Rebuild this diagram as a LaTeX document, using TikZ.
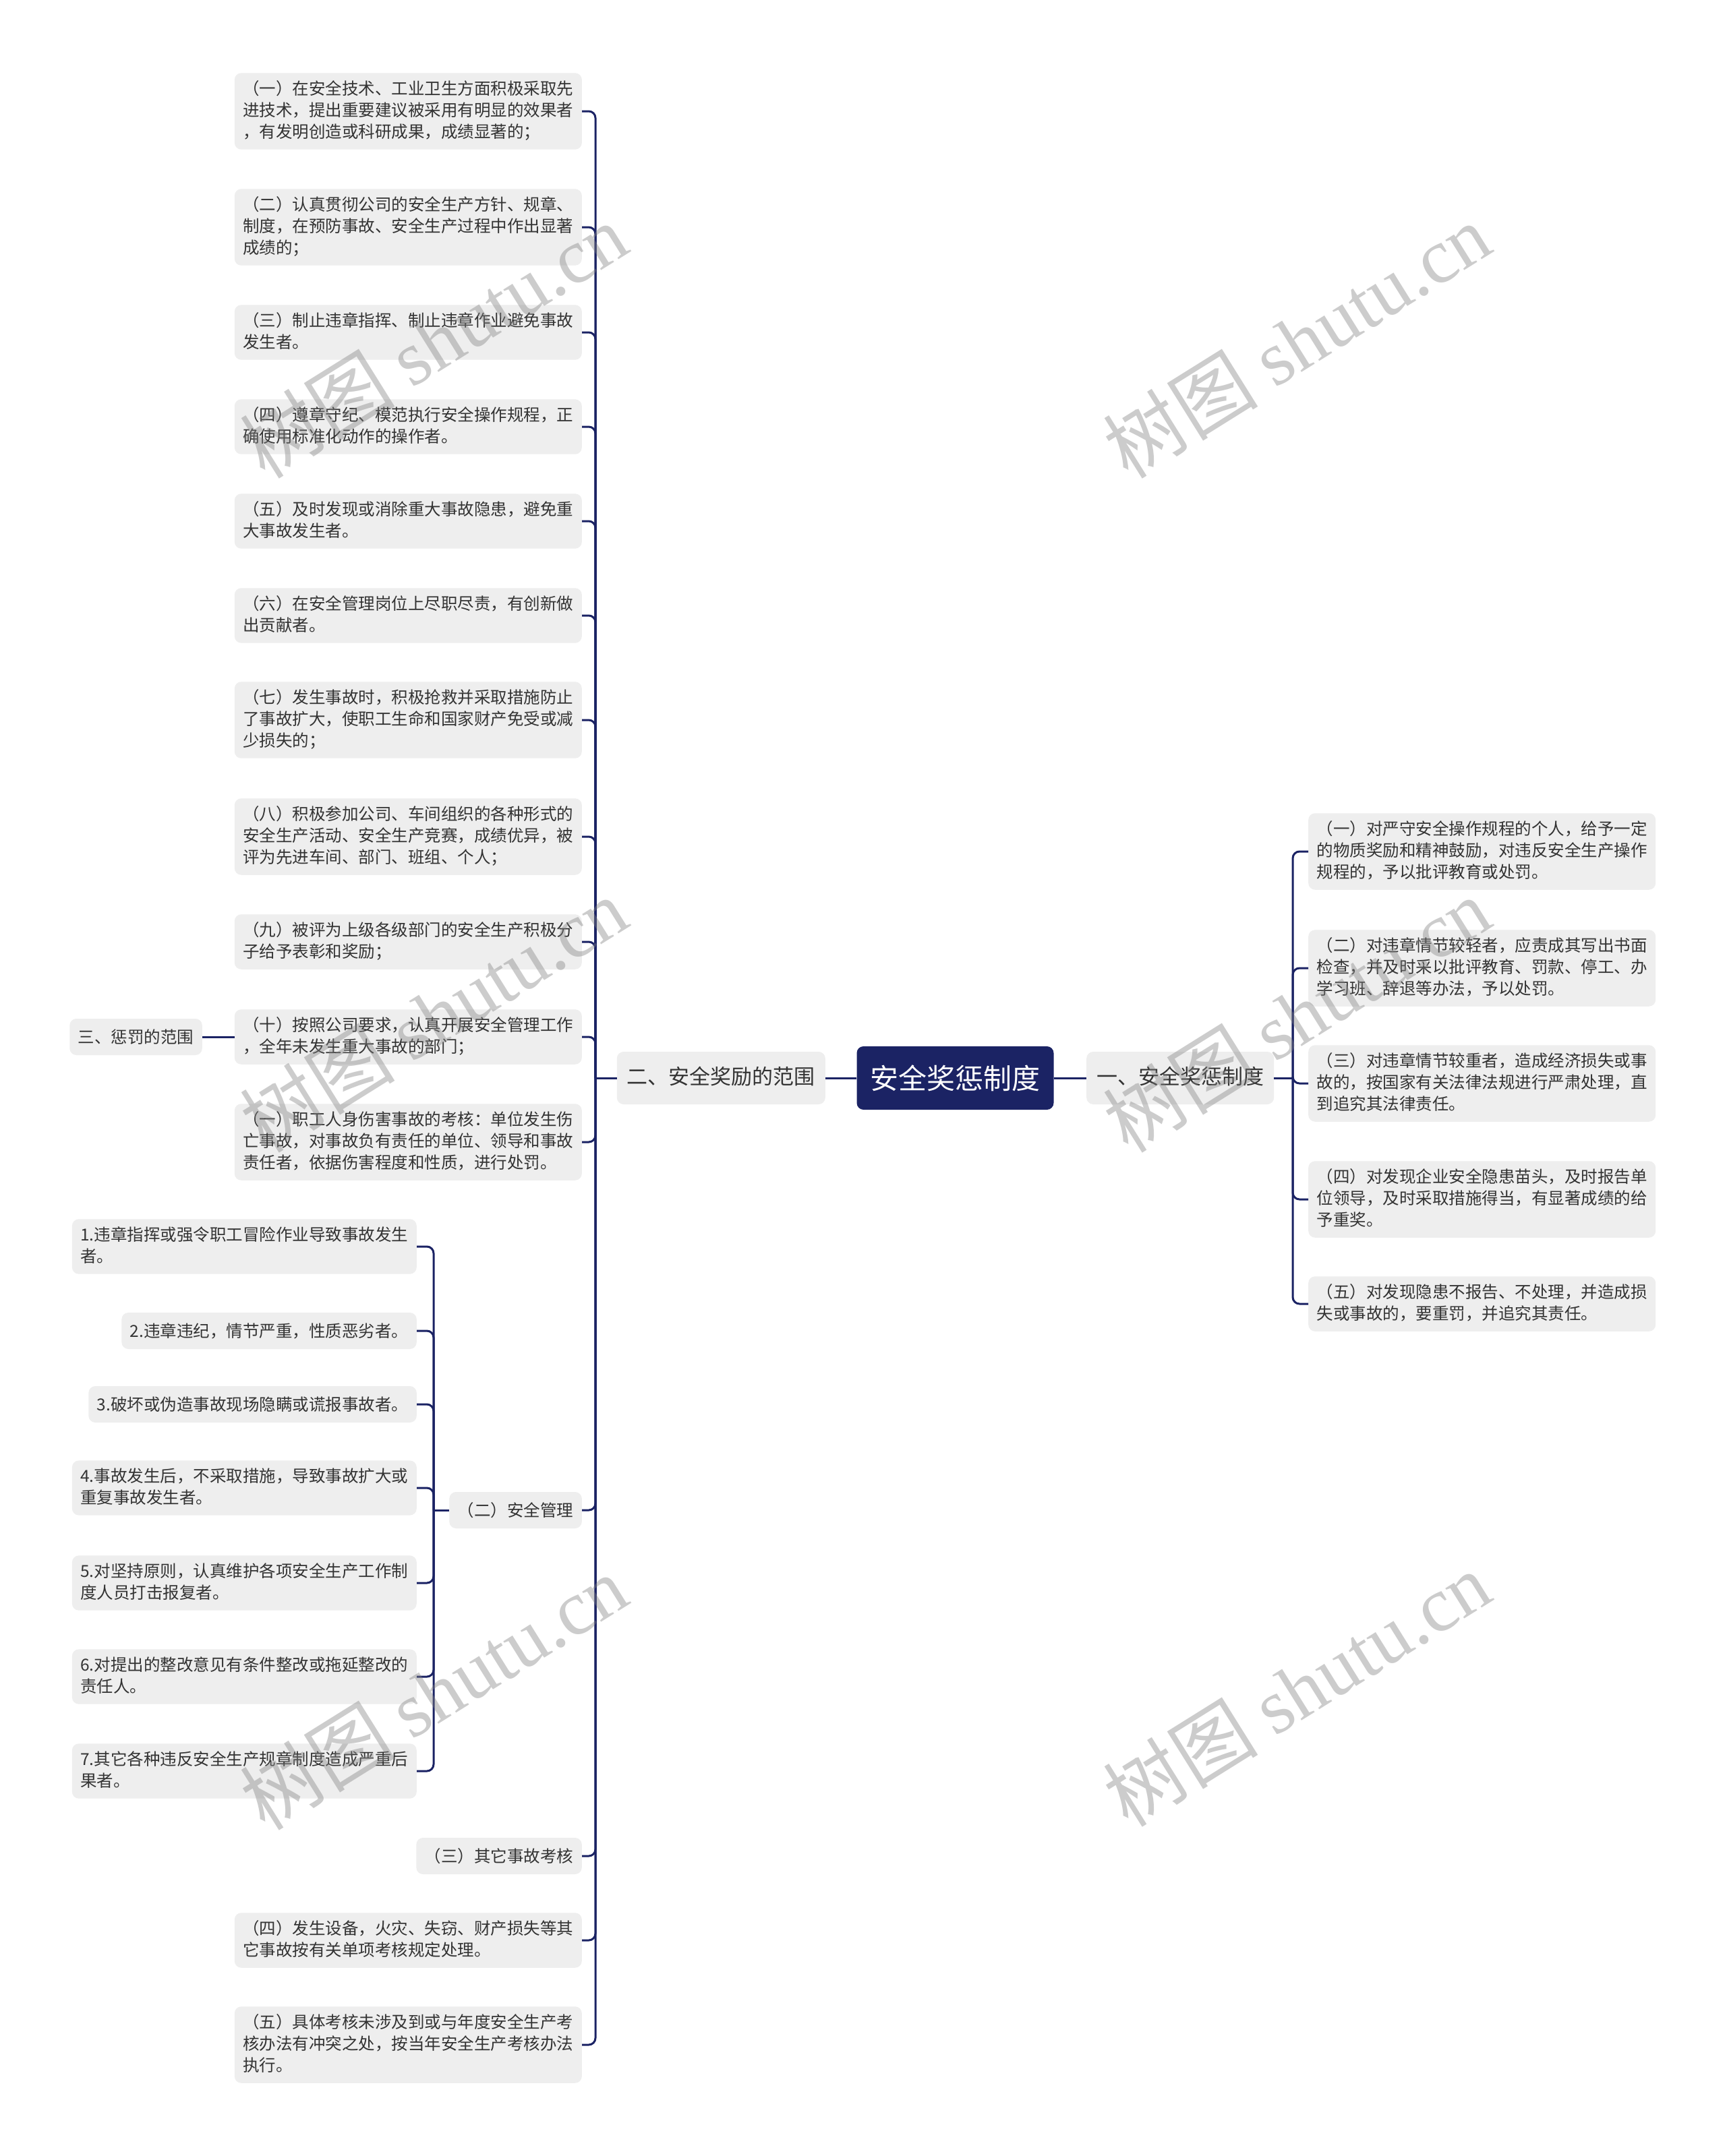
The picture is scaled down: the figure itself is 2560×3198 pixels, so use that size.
\documentclass[tikz,border=0pt]{standalone}
\usepackage{fontspec}
\setmainfont{Noto Sans CJK SC}
\newfontfamily\wmlatin{Liberation Serif}
\usepackage{xcolor}
\usepackage{tikz}
\usetikzlibrary{positioning}
\definecolor{navy}{HTML}{1B2364}
\definecolor{boxgray}{HTML}{EEEEEE}
\definecolor{txtgray}{HTML}{333333}
\newcommand{\boxstrut}{\rule[-6.5pt]{0pt}{32pt}}

\begin{document}
\begin{tikzpicture}[x=1pt, y=-1pt,
  box/.style={rectangle, rounded corners=10pt, fill=boxgray, text=txtgray, align=left,
              inner xsep=12.5pt, inner ysep=11pt, font=\fontsize{24.5}{32}\selectfont,
              execute at begin node=\boxstrut, execute at end node=\boxstrut},
  lbox/.style={box, anchor=east},
  rbox/.style={box, anchor=west},
  topic/.style={box, font=\fontsize{31}{40}\selectfont, inner xsep=15pt, minimum height=78pt},
  rootbox/.style={rectangle, rounded corners=10pt, fill=navy, text=white,
                  font=\fontsize{42}{48}\selectfont, minimum width=292pt, minimum height=94pt},
  link/.style={draw=navy, line width=3pt, rounded corners=10pt},
  wmark/.style={text=black!50, text opacity=0.4, rotate=32, inner sep=0pt,
                font=\fontsize{115}{115}\selectfont}
]
\fill[white] (0,0) rectangle (2560,3198);

% Centre
\node[rootbox] (root) at (1416.5,1599) {安全奖惩制度};
\node[topic, anchor=east] (er) at (1224,1599) {二、安全奖励的范围};
\node[topic, anchor=west] (yi) at (1611,1599) {一、安全奖惩制度};

% Left column
\node[lbox] (a1)  at (863,165)  {（一）在安全技术、工业卫生方面积极采取先\\进技术，提出重要建议被采用有明显的效果者\\，有发明创造或科研成果，成绩显著的；};
\node[lbox] (a2)  at (863,337)  {（二）认真贯彻公司的安全生产方针、规章、\\制度，在预防事故、安全生产过程中作出显著\\成绩的；};
\node[lbox] (a3)  at (863,493)  {（三）制止违章指挥、制止违章作业避免事故\\发生者。};
\node[lbox] (a4)  at (863,633)  {（四）遵章守纪、模范执行安全操作规程，正\\确使用标准化动作的操作者。};
\node[lbox] (a5)  at (863,773)  {（五）及时发现或消除重大事故隐患，避免重\\大事故发生者。};
\node[lbox] (a6)  at (863,913)  {（六）在安全管理岗位上尽职尽责，有创新做\\出贡献者。};
\node[lbox] (a7)  at (863,1068) {（七）发生事故时，积极抢救并采取措施防止\\了事故扩大，使职工生命和国家财产免受或减\\少损失的；};
\node[lbox] (a8)  at (863,1241) {（八）积极参加公司、车间组织的各种形式的\\安全生产活动、安全生产竞赛，成绩优异，被\\评为先进车间、部门、班组、个人；};
\node[lbox] (a9)  at (863,1397) {（九）被评为上级各级部门的安全生产积极分\\子给予表彰和奖励；};
\node[lbox] (a10) at (863,1538) {（十）按照公司要求，认真开展安全管理工作\\，全年未发生重大事故的部门；};
\node[lbox] (a11) at (863,1694) {（一）职工人身伤害事故的考核：单位发生伤\\亡事故，对事故负有责任的单位、领导和事故\\责任者，依据伤害程度和性质，进行处罚。};
\node[lbox] (a12) at (863,2240) {（二）安全管理};
\node[lbox] (a13) at (863,2753) {（三）其它事故考核};
\node[lbox] (a14) at (863,2878) {（四）发生设备，火灾、失窃、财产损失等其\\它事故按有关单项考核规定处理。};
\node[lbox] (a15) at (863,3033) {（五）具体考核未涉及到或与年度安全生产考\\核办法有冲突之处，按当年安全生产考核办法\\执行。};
\node[lbox] (san) at (300,1538) {三、惩罚的范围};

% Under (二) 安全管理
\node[lbox] (b1) at (618,1849) {1.违章指挥或强令职工冒险作业导致事故发生\\者。};
\node[lbox] (b2) at (618,1974) {2.违章违纪，情节严重，性质恶劣者。};
\node[lbox] (b3) at (618,2083) {3.破坏或伪造事故现场隐瞒或谎报事故者。};
\node[lbox] (b4) at (618,2207) {4.事故发生后，不采取措施，导致事故扩大或\\重复事故发生者。};
\node[lbox] (b5) at (618,2348) {5.对坚持原则，认真维护各项安全生产工作制\\度人员打击报复者。};
\node[lbox] (b6) at (618,2487) {6.对提出的整改意见有条件整改或拖延整改的\\责任人。};
\node[lbox] (b7) at (618,2627) {7.其它各种违反安全生产规章制度造成严重后\\果者。};

% Right column
\node[rbox] (c1) at (1940,1263) {（一）对严守安全操作规程的个人，给予一定\\的物质奖励和精神鼓励，对违反安全生产操作\\规程的，予以批评教育或处罚。};
\node[rbox] (c2) at (1940,1436) {（二）对违章情节较轻者，应责成其写出书面\\检查，并及时采以批评教育、罚款、停工、办\\学习班、辞退等办法，予以处罚。};
\node[rbox] (c3) at (1940,1607) {（三）对违章情节较重者，造成经济损失或事\\故的，按国家有关法律法规进行严肃处理，直\\到追究其法律责任。};
\node[rbox] (c4) at (1940,1779) {（四）对发现企业安全隐患苗头，及时报告单\\位领导，及时采取措施得当，有显著成绩的给\\予重奖。};
\node[rbox] (c5) at (1940,1934) {（五）对发现隐患不报告、不处理，并造成损\\失或事故的，要重罚，并追究其责任。};

% Connectors
\coordinate (lj) at (883,1599);
\coordinate (rj) at (1917,1599);
\coordinate (mj) at (643,2240);
\draw[link] (root.west) -- (er.east);
\draw[link] (root.east) -- (yi.west);
\draw[link] (er.west) -- (lj);
\foreach \n in {1,...,15} \draw[link] (lj) |- (a\n.east);
\draw[link] (yi.east) -- (rj);
\foreach \n in {1,...,5} \draw[link] (rj) |- (c\n.west);
\draw[link] (a12.west) -- (mj);
\foreach \n in {1,...,7} \draw[link] (mj) |- (b\n.east);
\draw[link] (a10.west) -- (san.east);

% Watermarks
\foreach \wx/\wy [count=\i] in {643/505, 1923/505, 643/1505, 1923/1505, 643/2510, 1923/2505}
  \node[wmark] (wm\i) at (\wx,\wy) {树图 {\wmlatin shutu.cn}};
\end{tikzpicture}
\end{document}
